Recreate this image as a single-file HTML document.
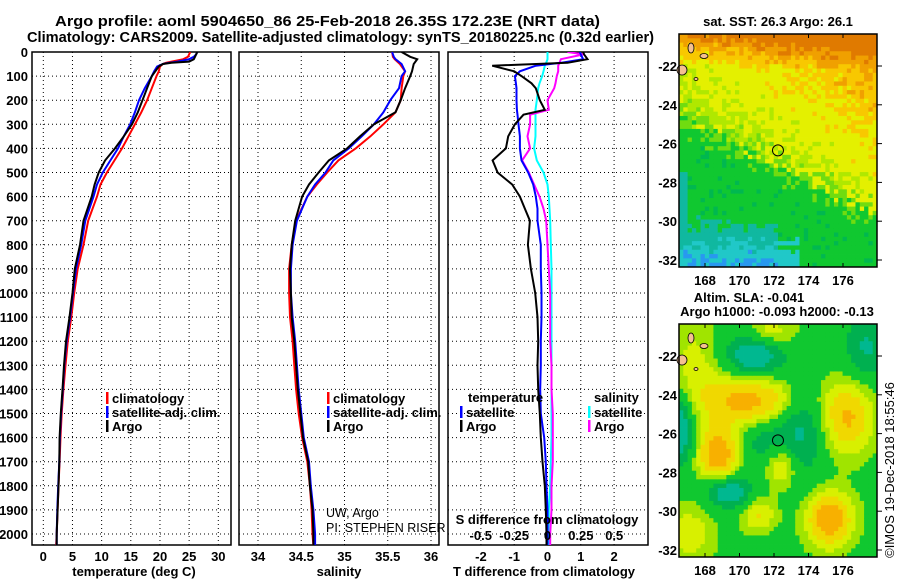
<!DOCTYPE html>
<html><head><meta charset="utf-8">
<style>
html,body{margin:0;padding:0;background:#fff;}
svg{display:block;font-family:"Liberation Sans",Arial,sans-serif;}
.b{font-weight:bold;font-size:13px;}
.t{font-weight:bold;font-size:14.5px;}
</style></head>
<body>
<svg id="chart" width="900" height="580" viewBox="0 0 900 580" xmlns="http://www.w3.org/2000/svg">
<defs>
<clipPath id="c1"><rect x="32" y="52" width="199" height="493"/></clipPath>
<clipPath id="c2"><rect x="239" y="52" width="200" height="493"/></clipPath>
<clipPath id="c3"><rect x="448" y="52" width="200" height="493"/></clipPath>
</defs>
<text class="t" x="55" y="26" textLength="545" lengthAdjust="spacingAndGlyphs">Argo profile: aoml 5904650_86 25-Feb-2018 26.35S 172.23E (NRT data)</text>
<text class="t" x="27" y="42" textLength="627" lengthAdjust="spacingAndGlyphs">Climatology: CARS2009. Satellite-adjusted climatology: synTS_20180225.nc (0.32d earlier)</text>
<g id="g"></g>
<text x="326" y="517" font-size="12.5">UW, Argo</text>
<text x="326" y="532" font-size="12.5">PI: STEPHEN RISER</text>
<text class="b" x="778" y="26" text-anchor="middle">sat. SST: 26.3 Argo: 26.1</text>
<text class="b" x="749" y="302" text-anchor="middle">Altim. SLA: -0.041</text>
<text class="b" x="777" y="316" text-anchor="middle">Argo h1000: -0.093 h2000: -0.13</text>
<text font-size="13" transform="translate(894,470) rotate(-90)" text-anchor="middle">©IMOS 19-Dec-2018 18:55:46</text>
</svg>
<script>
// ---- data ----
const tDepth=[0,10,20,30,40,45,50,60,80,100,150,200,250,300,350,400,450,500,550,600,700,800,900,1000,1100,1200,1300,1400,1500,1600,1700,1800,1900,2000,2050];
const argoT=[26.4,26.2,26.0,25.8,25.0,22.0,20.5,19.8,19.2,18.6,17.8,17.0,16.2,15.2,13.8,12.3,10.6,9.5,8.8,8.3,6.9,6.3,5.4,5.0,4.5,3.9,3.55,3.3,3.0,2.8,2.75,2.6,2.45,2.3,2.3];
const climT=[25.2,25.0,24.8,24.0,22.0,21.0,20.5,20.0,19.8,19.4,18.6,17.8,16.8,15.7,14.6,13.5,12.2,10.9,9.8,9.2,7.7,6.9,5.9,5.3,4.8,4.2,3.8,3.45,3.15,2.95,2.8,2.6,2.45,2.3,2.2];
const satT=[26.4,26.2,25.8,25.0,23.0,21.5,20.5,19.5,19.0,18.6,17.4,16.4,15.7,14.9,13.8,12.8,11.5,10.2,9.2,8.6,7.2,6.5,5.6,5.1,4.6,4.0,3.6,3.35,3.05,2.85,2.75,2.55,2.4,2.3,2.3];
const sDepth=[0,20,30,50,80,100,150,200,250,300,350,400,450,500,550,600,700,800,900,1000,1100,1200,1300,1400,1500,1600,1700,1800,1900,2000,2050];
const argoS=[35.66,35.76,35.84,35.8,35.78,35.76,35.70,35.65,35.59,35.34,35.18,35.03,34.82,34.70,34.59,34.51,34.43,34.39,34.37,34.38,34.39,34.42,34.44,34.46,34.49,34.52,34.58,34.60,34.63,34.64,34.64];
const climS=[35.55,35.56,35.58,35.64,35.70,35.68,35.66,35.65,35.59,35.45,35.30,35.13,34.93,34.80,34.68,34.57,34.44,34.39,34.36,34.36,34.37,34.40,34.42,34.44,34.47,34.51,34.57,34.60,34.62,34.63,34.64];
const satS=[35.55,35.57,35.59,35.66,35.70,35.66,35.63,35.53,35.45,35.34,35.20,35.05,34.87,34.78,34.66,34.57,34.45,34.40,34.38,34.38,34.40,34.43,34.45,34.47,34.50,34.53,34.59,34.61,34.64,34.66,34.66];
const dDepth=[0,10,30,45,57,80,100,130,150,200,240,260,300,350,400,450,500,550,600,650,700,800,900,1000,1100,1200,1300,1400,1500,1600,1700,1800,1900,2000,2050];
const argoTdiff=[1.07,1.1,1.2,0.6,-1.66,-1.0,-0.78,-0.48,-0.35,-0.23,-0.08,-0.72,-0.98,-1.18,-1.25,-1.65,-1.5,-1.06,-0.83,-0.68,-0.53,-0.59,-0.5,-0.37,-0.3,-0.28,-0.3,-0.28,-0.23,-0.2,-0.15,-0.08,-0.05,-0.03,-0.03];
const satTdiff=[0.97,1.0,1.07,0.4,-0.35,-0.83,-0.98,-0.95,-0.93,-0.93,-0.92,-0.9,-0.87,-0.83,-0.83,-0.78,-0.58,-0.43,-0.35,-0.3,-0.3,-0.2,-0.2,-0.18,-0.18,-0.2,-0.2,-0.22,-0.2,-0.1,-0.05,-0.03,0,0,0];
const argoSdiff=[0.15,0.27,0.1,0.09,0.08,0.08,0.07,0.06,0.05,0,0.01,-0.13,-0.13,-0.15,-0.13,-0.19,-0.14,-0.1,-0.06,-0.03,-0.01,0,0.01,0.02,0.02,0.02,0.03,0.03,0.04,0.04,0.04,0.03,0.03,0.02,0.02];
const satSdiff=[0,0,0,-0.01,-0.02,-0.03,-0.04,-0.06,-0.07,-0.08,-0.09,-0.09,-0.09,-0.09,-0.1,-0.08,-0.03,0,0.01,0.015,0.02,0.025,0.03,0.03,0.03,0.03,0.03,0.03,0.03,0.03,0.025,0.02,0.01,0.01,0.01];
const depthTicks=[0,100,200,300,400,500,600,700,800,900,1000,1100,1200,1300,1400,1500,1600,1700,1800,1900,2000];
const tempTicks=[0,5,10,15,20,25,30];
const salTicks=[34,34.5,35,35.5,36];
const salTickLabels=["34","34.5","35","35.5","36"];
const tdTicks=[-2,-1,0,1,2];
const sdTicks=[-0.5,-0.25,0,0.25,0.5];
const sdTickLabels=["-0.5","-0.25","0","0.25","0.5"];
const lonTicks=[168,170,172,174,176];
const latTicks=[-22,-24,-26,-28,-30,-32];
const argoLon=172.23, argoLat=-26.35;

const NS="http://www.w3.org/2000/svg";
const G=document.getElementById('g');
function mk(tag,attrs,parent){const e=document.createElementNS(NS,tag);for(const k in attrs)e.setAttribute(k,attrs[k]);(parent||G).appendChild(e);return e;}
const yD=d=>52+d*0.241;
function lin(d0,d1,r0,r1){return v=>r0+(v-d0)*(r1-r0)/(d1-d0);}
const xT=lin(0,30,43.3,218.3);
const xS=lin(34,36,258,431);
const xTd=lin(0,1,547.5,580.8);
const xSd=lin(0,1,547.5,681);

function panel(name,L,R,xf,ticks,labels,title,titleX){
  const g=mk('g',{});
  
  
  depthTicks.forEach(d=>{
    const l=mk('line',{x1:L,x2:R,y1:yD(d),y2:yD(d),stroke:'#000','stroke-width':1,'stroke-dasharray':'1,3'},g);
    
    
  });
  ticks.forEach((v,i)=>{
    const x=xf(v);
    const l=mk('line',{x1:x,x2:x,y1:52,y2:545,stroke:'#000','stroke-width':1,'stroke-dasharray':'1,3'},g);
    
    
    if(labels){
      const t=mk('text',{x:x,y:561,'text-anchor':'middle',class:'b'},g);
      t.textContent=labels[i];
      
      
    }
  });
  const f=mk('rect',{x:L,y:52,width:R-L,height:493,fill:'none',stroke:'#000','stroke-width':1.5},g);
  
  
  if(title){
    const t=mk('text',{x:titleX,y:576,'text-anchor':'middle',class:'b'},g);
    t.textContent=title;
    
    
  }
  return g;
}
function line(g,xs,ds,xf,color,clip,name){
  const pts=xs.map((v,i)=>xf(v).toFixed(1)+','+yD(ds[i]).toFixed(1)).join(' ');
  const p=mk('polyline',{points:pts,fill:'none',stroke:color,'stroke-width':2,'clip-path':'url(#'+clip+')','stroke-linejoin':'miter'},g);
  
  
}
function leg(g,x,y,color,txt){
  if(color){const r=mk('rect',{x:x,y:y-6,width:2.5,height:12,fill:color},g);
  
  }
  const t=mk('text',{x:x+6,y:y+5,class:'b'},g);
  t.textContent=txt;
  
  
}
depthTicks.forEach(d=>{
  const t=mk('text',{x:28,y:yD(d)+5,'text-anchor':'end',class:'b'});
  t.textContent=String(d);
  
  
});
const p1=panel('temperature-panel',32,231,xT,tempTicks,tempTicks.map(String),'temperature (deg C)',134);
line(p1,climT,tDepth,xT,'#ff0000','c1','climatology-temperature-line');
line(p1,satT,tDepth,xT,'#0000ff','c1','satellite-temperature-line');
line(p1,argoT,tDepth,xT,'#000000','c1','argo-temperature-line');
leg(p1,106,398,'#ff0000','climatology');
leg(p1,106,412,'#0000ff','satellite-adj. clim.');
leg(p1,106,426,'#000','Argo');
const p2=panel('salinity-panel',239,439,xS,salTicks,salTickLabels,'salinity',339);
line(p2,climS,sDepth,xS,'#ff0000','c2','climatology-salinity-line');
line(p2,satS,sDepth,xS,'#0000ff','c2','satellite-salinity-line');
line(p2,argoS,sDepth,xS,'#000000','c2','argo-salinity-line');
leg(p2,327,398,'#ff0000','climatology');
leg(p2,327,412,'#0000ff','satellite-adj. clim.');
leg(p2,327,426,'#000','Argo');
const p3=panel('difference-panel',448,648,xTd,tdTicks,tdTicks.map(String),'T difference from climatology',544);
line(p3,satSdiff,dDepth,xSd,'#00ffff','c3','satellite-salinity-diff-line');
line(p3,argoSdiff,dDepth,xSd,'#ff00ff','c3','argo-salinity-diff-line');
line(p3,satTdiff,dDepth,xTd,'#0000ff','c3','satellite-temperature-diff-line');
line(p3,argoTdiff,dDepth,xTd,'#000000','c3','argo-temperature-diff-line');
leg(p3,462,397,null,'temperature');
leg(p3,460,412,'#0000ff','satellite');
leg(p3,460,426,'#000','Argo');
leg(p3,588,397,null,'salinity');
leg(p3,588,412,'#00ffff','satellite');
leg(p3,588,426,'#ff00ff','Argo');
{const t=mk('text',{x:547,y:524,'text-anchor':'middle',class:'b'},p3);t.textContent='S difference from climatology';

}
sdTicks.forEach((v,i)=>{const t=mk('text',{x:xSd(v),y:540,'text-anchor':'middle',class:'b'},p3);t.textContent=sdTickLabels[i];

});

// ---- maps ----
function hash(i,j){let h=(i*374761393+j*668265263)>>>0;h=((h^(h>>>13))*1274126177)>>>0;return ((h^(h>>>16))%1000)/1000;}
function sstColor(u,w,n){
  const b=0.35+0.43*u;
  const d=b-w+(n-0.5)*0.06;
  if(d>0){
    let v=d*2+u*0.4+(w<0.15?(0.15-w)*10:0)+(n-0.5)*0.25;
    if(v>1.95)return '#e07a00';if(v>1.4)return '#f0a000';if(v>0.9)return '#f8c800';if(v>0.2)return '#e4f000';return '#b0e800';
  }
  const q=w+(n-0.5)*0.04;
  if(q>0.95&&u<0.5)return '#2898f0';
  if(q>0.89&&u<0.6)return '#20c8c8';
  if((q>0.8&&u<0.5)||(u<0.05&&w>0.6))return '#10b8a0';
  if(d>-0.06)return '#70dc10';
  return n>0.75?'#00b850':'#10c830';
}
const blobs=[[0.35,0.33,0.18,0.08,1.0],[0.85,0.4,0.09,0.11,0.9],[0.2,0.56,0.07,0.08,1.2],[0.52,0.6,0.06,0.07,0.7],[0.76,0.84,0.08,0.08,1.2],[0.4,0.82,0.06,0.05,0.6],[0.45,0.04,0.09,0.05,0.6],[0.08,0.15,0.1,0.13,0.35],[0.05,0.9,0.09,0.09,0.45],
[0.38,0.13,0.1,0.07,-1.0],[0.25,0.72,0.08,0.05,-0.9],[0.0,0.45,0.05,0.1,-1.0],[0.95,0.1,0.08,0.1,-0.6],[0.62,0.45,0.08,0.15,-0.6],[0.45,0.5,0.1,0.08,-0.5]];
function slaColor(u,w){
  let v=0;blobs.forEach(b=>{v+=b[4]*Math.exp(-((u-b[0])**2/(2*b[2]*b[2])+(w-b[1])**2/(2*b[3]*b[3])));});
  if(v>0.85)return '#f8b000';if(v>0.55)return '#f0d800';if(v>0.3)return '#d8f000';if(v>0.1)return '#a0e400';
  if(v>-0.25)return '#10c830';if(v>-0.55)return '#00b050';return '#00b890';
}
function drawMap(name,top,sst){
  const L=679,R=877,B=top+233,W=R-L,H=B-top;
  const g=mk('g',{});
  
  
  const nx=46,ny=54,cw=W/nx,ch=H/ny;
  for(let i=0;i<nx;i++)for(let j=0;j<ny;j++){
    const u=(i+0.5)/nx,w=(j+0.5)/ny;
    const c=sst?sstColor(u,w,hash(i,j)):slaColor(u,w);
    mk('rect',{x:(L+i*cw).toFixed(2),y:(top+j*ch).toFixed(2),width:(cw+0.4).toFixed(2),height:(ch+0.4).toFixed(2),fill:c},g);
  }
  const lx=lin(168,176,705,843), ly=lin(-22,-32,top+32,top+226);
  [[691,top+14,3,5],[704,top+22,4,2.5],[682,top+36,5,5],[696,top+45,2,1.5]].forEach(a=>{
    const e=mk('ellipse',{cx:a[0],cy:a[1],rx:a[2],ry:a[3],fill:'#f4c090',stroke:'#000','stroke-width':0.8},g);
    
    
  });
  const fr=mk('rect',{x:L,y:top,width:W,height:H,fill:'none',stroke:'#000','stroke-width':1.5},g);
  
  
  lonTicks.forEach(v=>{
    mk('line',{x1:lx(v),x2:lx(v),y1:B,y2:B-4,stroke:'#000'},g);
    mk('line',{x1:lx(v),x2:lx(v),y1:top,y2:top+4,stroke:'#000'},g);
    const t=mk('text',{x:lx(v),y:B+18,'text-anchor':'middle',class:'b'},g);t.textContent=String(v);
    
    
  });
  latTicks.forEach(v=>{
    mk('line',{x1:R,x2:R+5,y1:ly(v),y2:ly(v),stroke:'#000'},g);
    const t=mk('text',{x:677,y:ly(v)+5,'text-anchor':'end',class:'b'},g);t.textContent=String(v);
    
    
  });
  const c=mk('circle',{cx:lx(argoLon),cy:ly(argoLat),r:5.5,fill:'none',stroke:'#000','stroke-width':1},g);
  
  
}
drawMap('sst-map',34,true);
drawMap('sla-map',324,false);
</script>
</body></html>
